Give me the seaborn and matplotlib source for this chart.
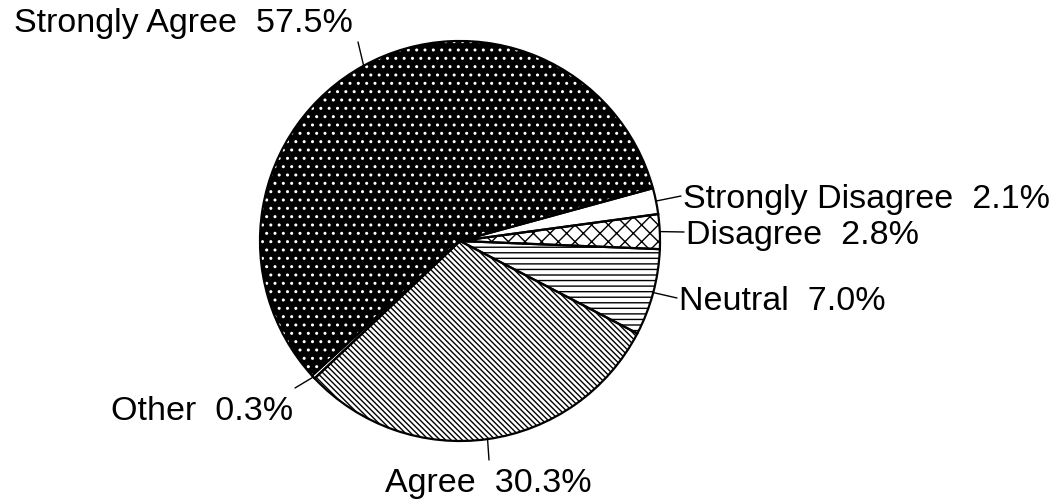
import matplotlib
matplotlib.use("Agg")
import matplotlib.pyplot as plt
import seaborn as sns
import numpy as np

# ---- data ----
categories = ["Strongly Disagree", "Disagree", "Neutral", "Agree", "Other", "Strongly Agree"]
percentages = [2.1, 2.8, 7.0, 30.3, 0.3, 57.5]
label_texts = [f"{c}  {p:.1f}%" for c, p in zip(categories, percentages)]

# ---- styling ----
sns.set_theme(style="white")
plt.rcParams["font.family"] = ["Liberation Sans", "DejaVu Sans"]
plt.rcParams["hatch.linewidth"] = 1.0

W, H = 1060, 500
fig = plt.figure(figsize=(W / 100, H / 100), dpi=100)
ax = fig.add_axes([0, 0, 1, 1])

center = (460, H - 241)
radius = 200
start = 15.3

hatches = ["", "xx", "---", "\\" * 6, "", ".."]
faces = ["white", "white", "white", "white", "white", "black"]
hatch_cols = ["black", "black", "black", "black", "black", "white"]

wedges, _ = ax.pie(percentages, startangle=start, counterclock=False,
                   center=center, radius=radius, frame=True,
                   wedgeprops=dict(linewidth=0))
for w, fc, hc, ht in zip(wedges, faces, hatch_cols, hatches):
    w.set_facecolor(fc)
    w.set_edgecolor(hc)
    w.set_hatch(ht)
    w.set_linewidth(0)

outline, _ = ax.pie(percentages, startangle=start, counterclock=False,
                    center=center, radius=radius, frame=True,
                    wedgeprops=dict(facecolor="none", edgecolor="black", linewidth=1.6))

ax.set_xlim(0, W)
ax.set_ylim(0, H)
ax.set_aspect("equal")
ax.axis("off")

# label layout in image pixel coords: (leader end x, y, text x, baseline y, ha)
layout = {
    "Strongly Disagree": (681, 196, 683, 208, "left"),
    "Disagree": (684, 232, 686, 244, "left"),
    "Neutral": (677, 298, 679, 310, "left"),
    "Agree": (489, 460, 385, 492, "left"),
    "Other": (295, 388, 293, 420, "right"),
    "Strongly Agree": (358, 42, 353, 32, "right"),
}

for w, cat, txt in zip(wedges, categories, label_texts):
    mid = np.deg2rad((w.theta1 + w.theta2) / 2)
    sx = center[0] + radius * np.cos(mid)
    sy = center[1] + radius * np.sin(mid)
    ex, ey, tx, ty, ha = layout[cat]
    ax.plot([sx, ex], [sy, H - ey], color="black", linewidth=1.0)
    ax.text(tx, H - ty, txt, ha=ha, va="baseline", fontsize=24.5, color="black")

fig.savefig("out.png", dpi=100, facecolor="white")
